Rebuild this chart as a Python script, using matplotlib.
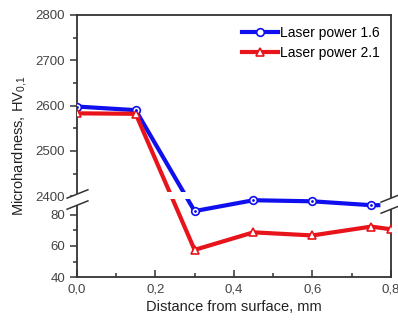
import numpy as np
import matplotlib
matplotlib.use("Agg")
import matplotlib.pyplot as plt
import matplotlib.transforms as mtransforms
from matplotlib.path import Path
from matplotlib.ticker import FixedLocator, FixedFormatter

plt.rcParams['font.family'] = ['Liberation Sans', 'DejaVu Sans']

# data
distance = [0.0, 0.15, 0.3, 0.45, 0.6, 0.75, 0.8]
power_16 = [2598, 2590, 82.5, 89.5, 88.8, 86.3, 86.3]
power_21 = [2583, 2582, 57.5, 68.8, 66.8, 72.5, 70.8]
labels = ["Laser power 1.6", "Laser power 2.1"]
x_ticks = [0.0, 0.2, 0.4, 0.6, 0.8]
x_ticklabels = ["0,0", "0,2", "0,4", "0,6", "0,8"]
y_ticks = [40, 60, 80, 2400, 2500, 2600, 2700, 2800]
y_minor = [50, 70, 90, 2450, 2550, 2650, 2750]

# broken-axis scale
LOW0, LOW1, HIGH0 = 40.0, 92.0, 2400.0
K = 3.42  # lower segment stretch relative to upper


def fwd(v):
    v = np.asarray(v, dtype=float)
    return np.where(v < 1000, (v - LOW0) * K, (LOW1 - LOW0) * K + (v - HIGH0))


def inv(u):
    u = np.asarray(u, dtype=float)
    b = (LOW1 - LOW0) * K
    return np.where(u < b, u / K + LOW0, u - b + HIGH0)


fig = plt.figure(figsize=(3.98, 3.24), dpi=100)
ax = fig.add_axes([0.193, 0.145, 0.789, 0.809])
ax.set_yscale('function', functions=(fwd, inv))
ax.set_ylim(40, 2800)
ax.set_xlim(0, 0.8)

blue = '#1010ee'
red = '#e8141b'
ax.plot(distance, power_16, color=blue, lw=3, marker='o', ms=5.5,
        mfc='white', mec=blue, mew=1.2, label=labels[0], zorder=3)
ax.plot(distance, power_16, ls='none', marker='.', ms=2, color=blue, zorder=4)
ax.plot(distance, power_21, color=red, lw=3, marker='^', ms=6,
        mfc='white', mec=red, mew=1.2, label=labels[1], zorder=3)

# gap in the lines at the break
ax.axhspan(90.3, 2410, xmin=0.22, xmax=0.37, color='white', zorder=5, lw=0)

# break marks
trans_l = mtransforms.blended_transform_factory(ax.transAxes, ax.transData)
par = Path([(-1, -0.9), (1, -0.1), (1, 0.9), (-1, 0.1), (-1, -0.9)])
slashes = Path([(-1, -0.9), (1, -0.1), (-1, 0.1), (1, 0.9)],
               [Path.MOVETO, Path.LINETO, Path.MOVETO, Path.LINETO])
for xa, yv in [(0.0, 2395), (1.0, 2385)]:
    ax.plot([xa], [yv], transform=trans_l, marker=par, ms=16, mfc='white',
            mec='none', clip_on=False, zorder=6)
    ax.plot([xa], [yv], transform=trans_l, marker=slashes, ms=16, mfc='none',
            mec='#333333', mew=1.1, clip_on=False, zorder=7)

ax.set_xticks(x_ticks)
ax.set_xticklabels(x_ticklabels)
ax.xaxis.set_minor_locator(FixedLocator([0.1, 0.3, 0.5, 0.7]))
ax.yaxis.set_major_locator(FixedLocator(y_ticks))
ax.yaxis.set_major_formatter(FixedFormatter([str(t) for t in y_ticks]))
ax.yaxis.set_minor_locator(FixedLocator(y_minor))

ax.tick_params(axis='x', which='both', direction='in', top=False, labelsize=9.5,
               labelcolor='#444444', color='#333333', pad=5)
ax.tick_params(axis='x', which='major', length=5, width=1.1)
ax.tick_params(axis='x', which='minor', length=3, width=1.1)
ax.tick_params(axis='y', which='both', direction='out', right=False, labelsize=9.5,
               labelcolor='#444444', color='#333333')
ax.tick_params(axis='y', which='major', length=5, width=1.1)
ax.tick_params(axis='y', which='minor', length=3, width=1.1)
for s in ax.spines.values():
    s.set_linewidth(1.3)
    s.set_color('#333333')

ax.set_xlabel("Distance from surface, mm", fontsize=10.5, color='#222222', labelpad=3)
ax.set_ylabel(r"Microhardness, HV$_{\mathregular{0{,}1}}$", fontsize=10.5,
              color='#222222', labelpad=4)

leg = ax.legend(loc='upper right', frameon=False, fontsize=10, handlelength=2.6,
                handletextpad=0.15, borderaxespad=0.4, labelspacing=0.45)

fig.savefig('out.png', dpi=100)
